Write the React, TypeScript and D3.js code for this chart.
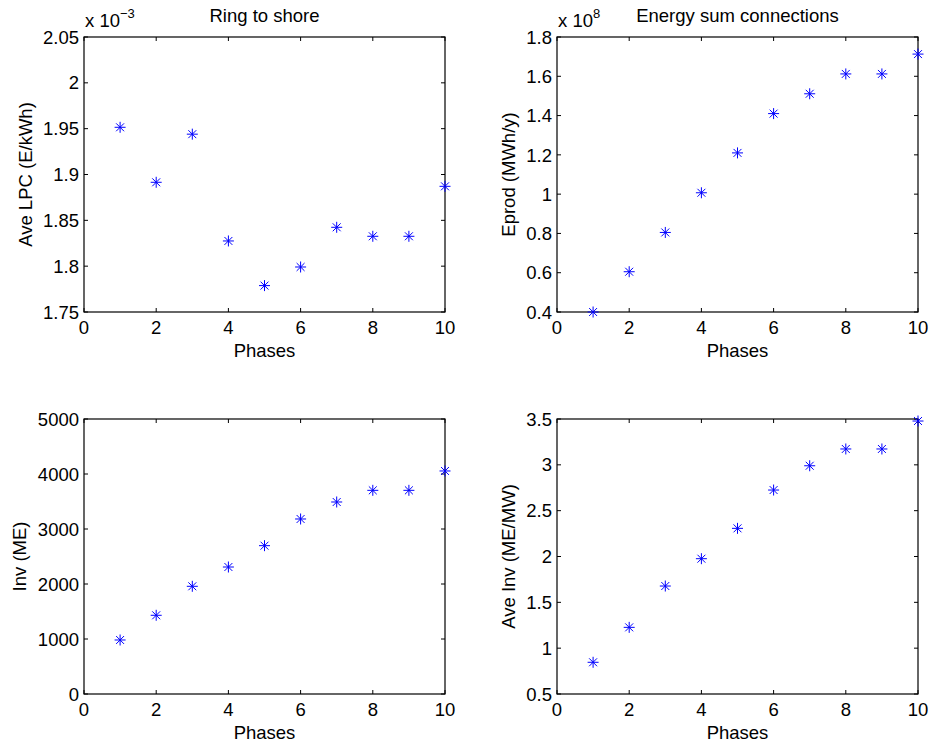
import React from "react";
import * as d3 from "d3";

const phases = [1, 2, 3, 4, 5, 6, 7, 8, 9, 10];
const lpcValues = [1.9515, 1.8915, 1.944, 1.8275, 1.7788, 1.7991, 1.8424, 1.8326, 1.8326, 1.8871];
const eprodValues = [0.4, 0.605, 0.805, 1.007, 1.21, 1.41, 1.511, 1.612, 1.612, 1.713];
const invValues = [982, 1431, 1958, 2309, 2697, 3182, 3491, 3703, 3703, 4055];
const aveInvValues = [0.846, 1.227, 1.678, 1.976, 2.307, 2.725, 2.99, 3.173, 3.173, 3.478];

const xTicks = [0, 2, 4, 6, 8, 10];
const lpcTicks = [1.75, 1.8, 1.85, 1.9, 1.95, 2, 2.05];
const eprodTicks = [0.4, 0.6, 0.8, 1, 1.2, 1.4, 1.6, 1.8];
const invTicks = [0, 1000, 2000, 3000, 4000, 5000];
const aveInvTicks = [0.5, 1, 1.5, 2, 2.5, 3, 3.5];

const FONT = "Arial, 'Liberation Sans', Helvetica, sans-serif";
const FS = 18.5;

type PanelProps = {
  left: number;
  top: number;
  width: number;
  height: number;
  values: number[];
  yDomain: [number, number];
  yTicks: number[];
  yLabel: string;
  yLabelX: number;
  title?: string;
  exponent?: string;
};

function Panel(p: PanelProps) {
  const x = d3.scaleLinear().domain([0, 10]).range([p.left, p.left + p.width]);
  const y = d3.scaleLinear().domain(p.yDomain).range([p.top + p.height, p.top]);
  const tl = 4;
  const bottom = p.top + p.height;
  const right = p.left + p.width;
  const ms = 5.5;
  const md = ms * 0.72;
  return (
    <g>
      {xTicks.map((t) => (
        <g key={"x" + t}>
          <line x1={x(t)} x2={x(t)} y1={bottom} y2={bottom - tl} stroke="#000" />
          <line x1={x(t)} x2={x(t)} y1={p.top} y2={p.top + tl} stroke="#000" />
          <text x={x(t)} y={bottom + 22} textAnchor="middle" fontSize={FS} fontFamily={FONT} fill="#000">
            {d3.format("")(t)}
          </text>
        </g>
      ))}
      {p.yTicks.map((t) => (
        <g key={"y" + t}>
          <line x1={p.left} x2={p.left + tl} y1={y(t)} y2={y(t)} stroke="#000" />
          <line x1={right} x2={right - tl} y1={y(t)} y2={y(t)} stroke="#000" />
          <text x={p.left - 5} y={y(t)} dy="0.36em" textAnchor="end" fontSize={FS} fontFamily={FONT} fill="#000">
            {String(+t.toFixed(4))}
          </text>
        </g>
      ))}
      <rect x={p.left} y={p.top} width={p.width} height={p.height} fill="none" stroke="#000" strokeWidth={1.2} />
      {p.values.map((v, i) => {
        const cx = x(phases[i]);
        const cy = y(v);
        return (
          <g key={"m" + i} stroke="#0000ff" strokeWidth={1}>
            <line x1={cx - ms} x2={cx + ms} y1={cy} y2={cy} />
            <line x1={cx} x2={cx} y1={cy - ms} y2={cy + ms} />
            <line x1={cx - md} x2={cx + md} y1={cy - md} y2={cy + md} />
            <line x1={cx - md} x2={cx + md} y1={cy + md} y2={cy - md} />
          </g>
        );
      })}
      <text x={p.left + p.width / 2} y={bottom + 45} textAnchor="middle" fontSize={FS} fontFamily={FONT} fill="#000">
        Phases
      </text>
      <text
        transform={`translate(${p.yLabelX},${p.top + p.height / 2}) rotate(-90)`}
        textAnchor="middle"
        dy="0.36em"
        fontSize={FS}
        fontFamily={FONT}
        fill="#000"
      >
        {p.yLabel}
      </text>
      {p.title && (
        <text x={p.left + p.width / 2} y={p.top - 15} textAnchor="middle" fontSize={FS} fontFamily={FONT} fill="#000">
          {p.title}
        </text>
      )}
      {p.exponent && (
        <text x={p.left + 1} y={p.top - 10} fontSize={FS} fontFamily={FONT} fill="#000">
          x 10
          <tspan fontSize={13} dy={-9}>
            {p.exponent}
          </tspan>
        </text>
      )}
    </g>
  );
}

export default function App() {
  const W = 361;
  const H = 275;
  return (
    <svg width={936} height={747} style={{ position: "absolute", left: 0, top: 0, background: "#fff" }}>
      <rect width={936} height={747} fill="#fff" />
      <Panel left={84} top={37} width={W} height={H} values={lpcValues} yDomain={[1.75, 2.05]} yTicks={lpcTicks}
        yLabel="Ave LPC (E/kWh)" yLabelX={25} title="Ring to shore" exponent={"\u22123"} />
      <Panel left={557} top={37} width={W} height={H} values={eprodValues} yDomain={[0.4, 1.8]} yTicks={eprodTicks}
        yLabel="Eprod (MWh/y)" yLabelX={508} title="Energy sum connections" exponent="8" />
      <Panel left={84} top={419} width={W} height={H} values={invValues} yDomain={[0, 5000]} yTicks={invTicks}
        yLabel="Inv (ME)" yLabelX={19} />
      <Panel left={557} top={419} width={W} height={H} values={aveInvValues} yDomain={[0.5, 3.5]} yTicks={aveInvTicks}
        yLabel="Ave Inv (ME/MW)" yLabelX={508} />
    </svg>
  );
}
